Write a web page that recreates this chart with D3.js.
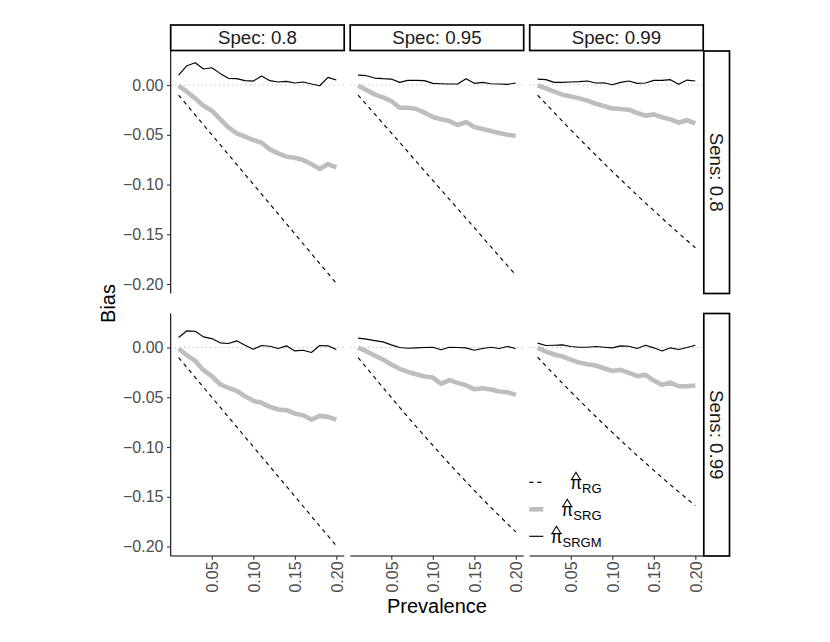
<!DOCTYPE html>
<html><head><meta charset="utf-8">
<script src="https://cdn.jsdelivr.net/npm/d3@7"></script>
<style>body{margin:0;background:#fff}svg{display:block;font-family:"Liberation Sans",Arial,Helvetica,sans-serif}</style>
</head><body><svg id="chart" width="830" height="642"></svg>
<script>
// ---------------- data ----------------
const prevalence = [0.01,0.02,0.03,0.04,0.05,0.06,0.07,0.08,0.09,0.10,0.11,0.12,0.13,0.14,0.15,0.16,0.17,0.18,0.19,0.20];
const sensLevels = ["0.8","0.99"];
const specLevels = ["0.8","0.95","0.99"];
const xTicks = [0.05,0.10,0.15,0.20];
const yTicks = [-0.20,-0.15,-0.10,-0.05,0.00];
const seriesNames = ["RG","SRG","SRGM"];

// Sens 0.8
const rg_se80_sp80   = [-0.0101,-0.0201,-0.0300,-0.0400,-0.0499,-0.0599,-0.0698,-0.0798,-0.0898,-0.0997,-0.1097,-0.1196,-0.1296,-0.1395,-0.1495,-0.1595,-0.1694,-0.1794,-0.1893,-0.1993];
const srg_se80_sp80  = [-0.0007,-0.0067,-0.0134,-0.0208,-0.0258,-0.0342,-0.0425,-0.0486,-0.0519,-0.0553,-0.0580,-0.0647,-0.0687,-0.0720,-0.0730,-0.0754,-0.0794,-0.0844,-0.0794,-0.0827];
const srgm_se80_sp80 = [0.0100,0.0194,0.0224,0.0161,0.0174,0.0117,0.0067,0.0064,0.0044,0.0040,0.0090,0.0044,0.0030,0.0037,0.0020,0.0030,0.0010,-0.0007,0.0077,0.0050];

const rg_se80_sp95   = [-0.0101,-0.0196,-0.0291,-0.0387,-0.0482,-0.0577,-0.0672,-0.0768,-0.0863,-0.0958,-0.1053,-0.1149,-0.1244,-0.1339,-0.1434,-0.1530,-0.1625,-0.1720,-0.1815,-0.1910];
const srg_se80_sp95  = [-0.0005,-0.0050,-0.0094,-0.0124,-0.0161,-0.0228,-0.0228,-0.0241,-0.0278,-0.0322,-0.0345,-0.0362,-0.0402,-0.0372,-0.0422,-0.0442,-0.0462,-0.0482,-0.0499,-0.0513];
const srgm_se80_sp95 = [0.0100,0.0094,0.0070,0.0064,0.0060,0.0027,0.0047,0.0047,0.0044,0.0017,0.0013,0.0010,0.0010,0.0064,0.0017,0.0027,0.0013,0.0010,0.0007,0.0020];

const rg_se80_sp99   = [-0.0101,-0.0190,-0.0277,-0.0364,-0.0451,-0.0536,-0.0620,-0.0703,-0.0786,-0.0868,-0.0948,-0.1028,-0.1107,-0.1186,-0.1262,-0.1339,-0.1414,-0.1489,-0.1562,-0.1635];
const srg_se80_sp99  = [-0.0003,-0.0034,-0.0067,-0.0097,-0.0114,-0.0134,-0.0157,-0.0188,-0.0211,-0.0235,-0.0241,-0.0248,-0.0281,-0.0308,-0.0295,-0.0325,-0.0345,-0.0379,-0.0352,-0.0385];
const srgm_se80_sp99 = [0.0060,0.0054,0.0027,0.0027,0.0030,0.0034,0.0040,0.0020,0.0023,0.0003,0.0027,0.0040,0.0017,0.0020,0.0047,0.0047,0.0054,0.0007,0.0050,0.0040];

// Sens 0.99
const rg_se99_sp80   = [-0.0101,-0.0201,-0.0300,-0.0400,-0.0499,-0.0599,-0.0698,-0.0798,-0.0898,-0.0997,-0.1097,-0.1196,-0.1296,-0.1395,-0.1495,-0.1595,-0.1694,-0.1794,-0.1893,-0.1993];
const srg_se99_sp80  = [-0.0010,-0.0077,-0.0134,-0.0228,-0.0288,-0.0369,-0.0405,-0.0436,-0.0489,-0.0536,-0.0556,-0.0596,-0.0623,-0.0630,-0.0663,-0.0680,-0.0724,-0.0687,-0.0697,-0.0724];
const srgm_se99_sp80 = [0.0101,0.0168,0.0164,0.0107,0.0090,0.0047,0.0040,0.0067,0.0023,-0.0017,0.0020,0.0013,-0.0010,0.0017,-0.0034,-0.0027,-0.0050,0.0020,0.0017,-0.0020];

const rg_se99_sp95   = [-0.0101,-0.0202,-0.0303,-0.0403,-0.0502,-0.0601,-0.0698,-0.0795,-0.0890,-0.0984,-0.1077,-0.1169,-0.1259,-0.1348,-0.1436,-0.1522,-0.1607,-0.1690,-0.1772,-0.1853];
const srg_se99_sp95  = [0.0000,-0.0037,-0.0080,-0.0121,-0.0171,-0.0214,-0.0245,-0.0268,-0.0291,-0.0302,-0.0365,-0.0328,-0.0355,-0.0379,-0.0419,-0.0409,-0.0422,-0.0442,-0.0449,-0.0476];
const srgm_se99_sp95 = [0.0094,0.0084,0.0070,0.0057,0.0027,0.0000,-0.0007,-0.0003,0.0000,0.0003,-0.0023,0.0003,0.0000,-0.0003,-0.0027,-0.0010,0.0003,-0.0010,0.0010,-0.0010];

const rg_se99_sp99   = [-0.0097,-0.0185,-0.0273,-0.0359,-0.0444,-0.0528,-0.0611,-0.0693,-0.0774,-0.0853,-0.0932,-0.1009,-0.1086,-0.1160,-0.1235,-0.1307,-0.1380,-0.1450,-0.1520,-0.1588];
const srg_se99_sp99  = [-0.0003,-0.0040,-0.0070,-0.0090,-0.0121,-0.0151,-0.0168,-0.0181,-0.0208,-0.0235,-0.0224,-0.0255,-0.0288,-0.0275,-0.0332,-0.0375,-0.0352,-0.0389,-0.0389,-0.0382];
const srgm_se99_sp99 = [0.0044,0.0020,0.0023,0.0027,0.0010,0.0003,0.0003,0.0010,0.0003,-0.0003,0.0017,0.0013,-0.0010,0.0023,-0.0003,-0.0034,-0.0003,-0.0020,0.0000,0.0023];

const facetTable = [
  [[rg_se80_sp80, srg_se80_sp80, srgm_se80_sp80],[rg_se80_sp95, srg_se80_sp95, srgm_se80_sp95],[rg_se80_sp99, srg_se80_sp99, srgm_se80_sp99]],
  [[rg_se99_sp80, srg_se99_sp80, srgm_se99_sp80],[rg_se99_sp95, srg_se99_sp95, srgm_se99_sp95],[rg_se99_sp99, srg_se99_sp99, srgm_se99_sp99]]
];

// ---------------- layout ----------------
const svg = d3.select("#chart");
svg.append("rect").attr("width",830).attr("height",642).attr("fill","#fff");

const colX = [170.7, 350.2, 529.7];
const rowY = [51, 313.5];
const pw = 173.5, ph = 242.5;
const stripTop = 25, stripH = 25.5;
const rStripX = 703.8, rStripW = 25.7;

const x = d3.scaleLinear().domain([0.0005, 0.2095]).range([0, pw]);
const y = d3.scaleLinear().domain([-0.2095, 0.0342]).range([ph, 0]);

const styles = {
  RG:   {stroke:"#000", width:1.15, dash:"4,4"},
  SRG:  {stroke:"#BEBEBE", width:4.6, dash:null},
  SRGM: {stroke:"#000", width:1.15, dash:null}
};

const line = d3.line().x((d,i)=>x(prevalence[i])).y(d=>y(d));

const TICK = 3.67;
const tickCol = "#333333", labCol = "#4D4D4D";

for (let r=0; r<2; r++) {
  for (let c=0; c<3; c++) {
    const g = svg.append("g").attr("transform",`translate(${colX[c]},${rowY[r]})`);
    g.append("line").attr("x1",0).attr("x2",pw).attr("y1",y(0)).attr("y2",y(0))
      .attr("stroke","#B3B3B3").attr("stroke-width",1.1).attr("stroke-dasharray","1.1,3.3");
    facetTable[r][c].forEach((vals, k) => {
      const st = styles[seriesNames[k]];
      g.append("path").datum(vals).attr("d", line).attr("fill","none")
        .attr("stroke", st.stroke).attr("stroke-width", st.width)
        .attr("stroke-dasharray", st.dash).attr("stroke-linejoin","round");
    });
    if (c === 0) {
      const ax = g.append("g").call(d3.axisLeft(y).tickValues(yTicks).tickFormat(d3.format(".2f")).tickSize(TICK).tickPadding(3.6));
      ax.select(".domain").attr("stroke","#000").attr("stroke-width",1.1).attr("d",`M0,0V${ph}`);
      ax.selectAll(".tick line").attr("stroke",tickCol).attr("stroke-width",1.1);
      ax.selectAll(".tick text").attr("fill",labCol).attr("font-size","16px");
    }
    if (r === 1) {
      const ax = g.append("g").attr("transform",`translate(0,${ph})`)
        .call(d3.axisBottom(x).tickValues(xTicks).tickFormat(d3.format(".2f")).tickSize(TICK));
      ax.select(".domain").attr("stroke","#000").attr("stroke-width",1.1).attr("d",`M0,0H${pw}`);
      ax.selectAll(".tick line").attr("stroke",tickCol).attr("stroke-width",1.1);
      ax.selectAll(".tick text").attr("fill",labCol).attr("font-size","16px")
        .attr("transform","rotate(-90)").attr("text-anchor","end")
        .attr("x",-(TICK+1.8)).attr("y",0).attr("dy","0.36em");
    }
  }
}
svg.selectAll("g").attr("font-family",null);

// top strips
specLevels.forEach((s,c)=>{
  svg.append("rect").attr("x",colX[c]).attr("y",stripTop).attr("width",pw).attr("height",stripH)
    .attr("fill","#fff").attr("stroke","#000").attr("stroke-width",1.7);
  svg.append("text").attr("x",colX[c]+pw/2).attr("y",stripTop+stripH/2).attr("dy","0.36em")
    .attr("text-anchor","middle").attr("font-size","18.7px").attr("fill","#1A1A1A").text("Spec: "+s);
});
// right strips
sensLevels.forEach((s,r)=>{
  svg.append("rect").attr("x",rStripX).attr("y",rowY[r]).attr("width",rStripW).attr("height",ph)
    .attr("fill","#fff").attr("stroke","#000").attr("stroke-width",1.7);
  const cx = rStripX + rStripW/2, cy = rowY[r] + ph/2;
  svg.append("text").attr("transform",`translate(${cx},${cy}) rotate(90)`).attr("dy","0.36em")
    .attr("text-anchor","middle").attr("font-size","18.7px").attr("fill","#1A1A1A").text("Sens: "+s);
});

// axis titles
svg.append("text").attr("x",(colX[0]+colX[2]+pw)/2).attr("y",613).attr("text-anchor","middle")
  .attr("font-size","20px").attr("fill","#000").text("Prevalence");
svg.append("text").attr("transform",`translate(115,${(rowY[0]+rowY[1]+ph)/2}) rotate(-90)`)
  .attr("text-anchor","middle").attr("font-size","20px").attr("fill","#000").text("Bias");

// legend
const legKeyX1 = 529.3, legKeyX2 = 543.3, legTextX = 601.5;
const legRowY = [482.3, 509.3, 536.3];
seriesNames.forEach((nm,i)=>{
  const st = styles[nm];
  svg.append("line").attr("x1",legKeyX1).attr("x2",legKeyX2).attr("y1",legRowY[i]).attr("y2",legRowY[i])
    .attr("stroke",st.stroke).attr("stroke-width",st.width).attr("stroke-dasharray",st.dash);
  const base = legRowY[i] + 6.8;
  const t = svg.append("text").attr("x",legTextX).attr("y",base).attr("text-anchor","end")
    .attr("font-size","17.5px").attr("fill","#000");
  t.append("tspan").text("π");
  t.append("tspan").attr("dy",4).attr("font-size","13px").text(nm);
  const ext = t.node().getExtentOfChar(0);
  const cx = ext.x + ext.width/2;
  svg.append("path").attr("d",`M${cx-4.4},${base-9.6}L${cx},${base-16.8}L${cx+4.4},${base-9.6}`)
    .attr("fill","none").attr("stroke","#000").attr("stroke-width",1.1);
});
</script></body></html>
